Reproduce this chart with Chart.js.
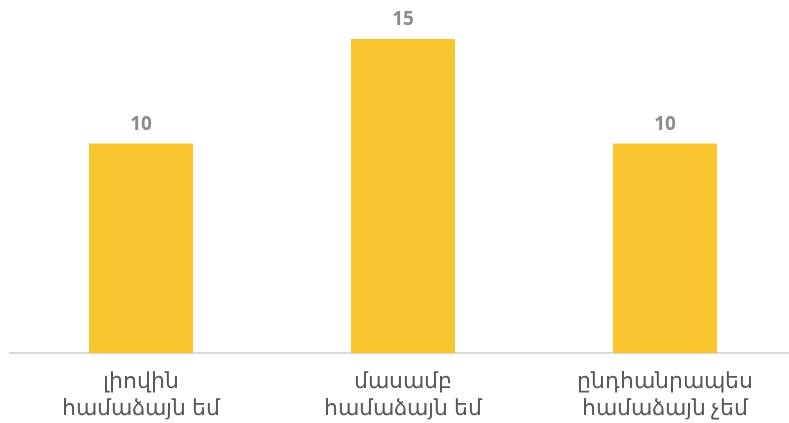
<!DOCTYPE html>
<html><head><meta charset="utf-8">
<script src="https://cdn.jsdelivr.net/npm/chart.js@4"></script>
<style>html,body{margin:0;padding:0;background:#fff;overflow:hidden}#w{width:796px;height:437px}</style>
</head><body><div id="w"><canvas id="c"></canvas></div>
<script>
const categories = [["լիովին","համաձայն եմ"],["մասամբ","համաձայն եմ"],["ընդհանրապես","համաձայն չեմ"]];
const values = [10, 15, 10];

const valueLabels = {
  id: 'valueLabels',
  afterDatasetsDraw(chart) {
    const ctx = chart.ctx;
    const meta = chart.getDatasetMeta(0);
    ctx.save();
    ctx.font = 'bold 19px "Noto Sans"';
    ctx.fillStyle = '#8c8c8c';
    ctx.textAlign = 'center';
    ctx.textBaseline = 'middle';
    meta.data.forEach((bar, i) => {
      ctx.fillText(String(values[i]), bar.x, bar.y - 19);
    });
    ctx.restore();
  }
};

new Chart(document.getElementById('c'), {
  type: 'bar',
  data: {
    labels: categories,
    datasets: [{ data: values, backgroundColor: '#F9C630', borderWidth: 0,
      categoryPercentage: 1.0, barPercentage: 0.397 }]
  },
  options: {
    responsive: true, maintainAspectRatio: false, animation: false,
    layout: { padding: { top: 18, left: 10, right: 0, bottom: 0 } },
    plugins: { legend: { display: false }, tooltip: { enabled: false } },
    scales: {
      x: {
        grid: { display: false, drawTicks: false },
        border: { display: true, color: '#d9d9d9', width: 2 },
        ticks: { color: '#595959', font: { family: '"Noto Sans"', size: 22, lineHeight: 1.23 }, padding: 15, maxRotation: 0, autoSkip: false }
      },
      y: { display: false, min: 0, max: 16 }
    }
  },
  plugins: [valueLabels]
});
</script></body></html>
